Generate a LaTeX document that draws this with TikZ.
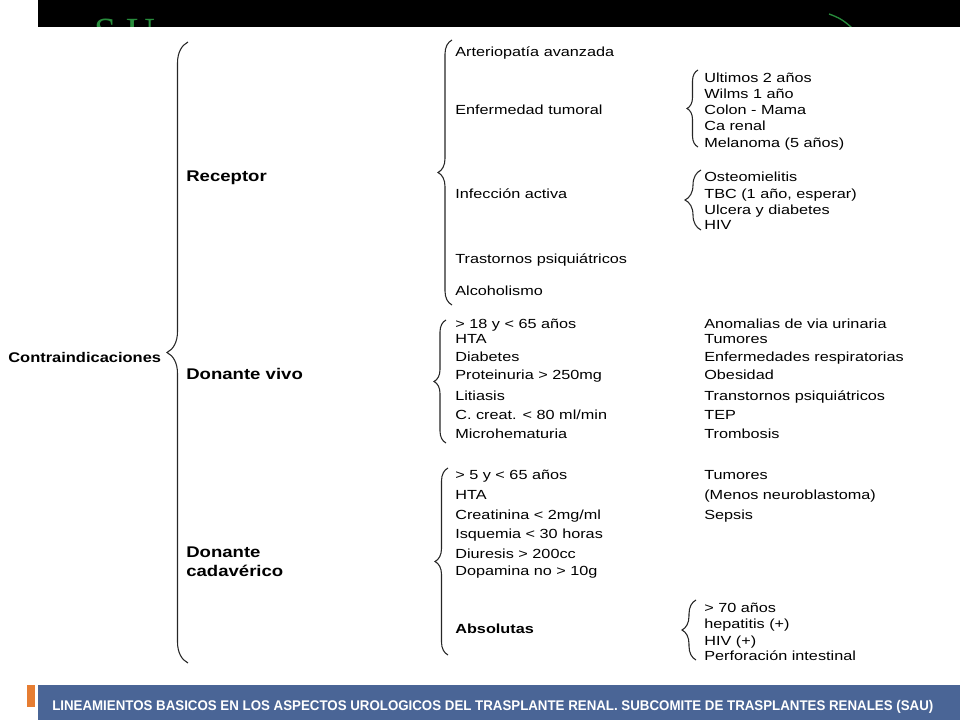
\documentclass[tikz,border=0pt]{standalone}
\usepackage{fontspec}
\setmainfont{Liberation Sans}
\newfontfamily\titlefont{Liberation Serif}
\usetikzlibrary{decorations.pathreplacing}
\definecolor{barblue}{RGB}{74,101,150}
\definecolor{accent}{RGB}{230,125,50}
\definecolor{titlegreen}{RGB}{40,140,60}

\begin{document}
\begin{tikzpicture}[x=0.75pt, y=-0.75pt,
    txt/.style={anchor=base west, inner sep=0pt, font=\fontsize{9.9}{11}\selectfont, xscale=1.23},
    hdr/.style={anchor=base west, inner sep=0pt, font=\fontsize{11.6}{13}\selectfont\bfseries, xscale=1.2},
    brc/.style={decorate, decoration={brace, amplitude=#1}, line width=0.8pt, black!85},
  ]
  \useasboundingbox (0,0) rectangle (960,720);

  % top bar
  \fill[black] (38,0) rectangle (960,27);
  \begin{scope}
    \clip (38,0) rectangle (960,27);
    \node[anchor=north west, inner sep=0pt, text=titlegreen, font=\titlefont\fontsize{30}{33}\selectfont] (title) at (94,19) {S.U};
    \coordinate (arcA) at (829,14);
    \coordinate (arcB) at (852,28);
    \draw[titlegreen, line width=1pt] (arcA) to[bend left=12] (arcB);
  \end{scope}

  % main levels
  \node[hdr, font=\fontsize{10.5}{12}\selectfont\bfseries, xscale=0.98] (contra) at (8,362) {Contraindicaciones};
  \node[hdr] (rec) at (186,182) {Receptor};
  \node[hdr] (vivo) at (186,379) {Donante vivo};
  \node[hdr] (cad1) at (186,557) {Donante};
  \node[hdr] (cad2) at (186,576) {cadavérico};

  \coordinate (mainT) at (188,42);
  \coordinate (mainB) at (188,663);
  \draw[brc=15.75pt] (mainB) -- (mainT);

  % receptor
  \coordinate (recT) at (452,40);
  \coordinate (recB) at (452,305);
  \draw[brc=10.5pt] (recB) -- (recT);
  \node[txt] (art) at (455,57) {Arteriopatía avanzada};
  \node[txt] (tum) at (455,115) {Enfermedad tumoral};
  \node[txt] (inf) at (455,199) {Infección activa};
  \node[txt] (psi) at (455,264) {Trastornos psiquiátricos};
  \node[txt] (alc) at (455,296) {Alcoholismo};

  \coordinate (tumT) at (698,70);
  \coordinate (tumB) at (698,147);
  \draw[brc=8.25pt] (tumB) -- (tumT);
  \node[txt] (ult) at (704,83) {Ultimos 2 años};
  \node[txt] (wil) at (704,99) {Wilms 1 año};
  \node[txt] (col) at (704,115) {Colon - Mama};
  \node[txt] (car) at (704,131) {Ca renal};
  \node[txt] (mel) at (704,148) {Melanoma (5 años)};

  \coordinate (infT) at (701,170);
  \coordinate (infB) at (701,230);
  \draw[brc=12pt] (infB) -- (infT);
  \node[txt] (ost) at (704,182) {Osteomielitis};
  \node[txt] (tbc) at (704,199) {TBC (1 año, esperar)};
  \node[txt] (ulc) at (704,215) {Ulcera y diabetes};
  \node[txt] (hiv) at (704,230) {HIV};

  % donante vivo
  \coordinate (vivoT) at (446,320);
  \coordinate (vivoB) at (446,443);
  \draw[brc=9pt] (vivoB) -- (vivoT);
  \node[txt] (v1) at (455,329) {> 18 y < 65 años};
  \node[txt] (v2) at (455,344) {HTA};
  \node[txt] (v3) at (455,361) {Diabetes};
  \node[txt] (v4) at (455,379) {Proteinuria > 250mg};
  \node[txt] (v5) at (455,400) {Litiasis};
  \node[txt] (v6) at (455,419) {C. creat. < 80 ml/min};
  \node[txt] (v7) at (455,438) {Microhematuria};
  \node[txt] (w1) at (704,329) {Anomalias de via urinaria};
  \node[txt] (w2) at (704,344) {Tumores};
  \node[txt] (w3) at (704,361) {Enfermedades respiratorias};
  \node[txt] (w4) at (704,379) {Obesidad};
  \node[txt] (w5) at (704,400) {Transtornos psiquiátricos};
  \node[txt] (w6) at (704,419) {TEP};
  \node[txt] (w7) at (704,438) {Trombosis};

  % donante cadaverico
  \coordinate (cadT) at (448,468);
  \coordinate (cadB) at (448,655);
  \draw[brc=9.75pt] (cadB) -- (cadT);
  \node[txt] (c1) at (455,479) {> 5 y < 65 años};
  \node[txt] (c2) at (455,499) {HTA};
  \node[txt] (c3) at (455,519) {Creatinina < 2mg/ml};
  \node[txt] (c4) at (455,538) {Isquemia < 30 horas};
  \node[txt] (c5) at (455,558) {Diuresis > 200cc};
  \node[txt] (c6) at (455,575) {Dopamina no > 10g};
  \node[txt, font=\fontsize{9.9}{11}\selectfont\bfseries] (abs) at (455,633) {Absolutas};
  \node[txt] (d1) at (704,479) {Tumores};
  \node[txt] (d2) at (704,499) {(Menos neuroblastoma)};
  \node[txt] (d3) at (704,519) {Sepsis};

  \coordinate (absT) at (696,600);
  \coordinate (absB) at (696,660);
  \draw[brc=10.5pt] (absB) -- (absT);
  \node[txt] (a1) at (704,612) {> 70 años};
  \node[txt] (a2) at (704,628) {hepatitis (+)};
  \node[txt] (a3) at (704,645) {HIV (+)};
  \node[txt] (a4) at (704,660) {Perforación intestinal};

  % footer
  \fill[accent] (27,685) rectangle (35,707);
  \fill[barblue] (38,685) rectangle (960,720);
  \node[anchor=base west, inner sep=0pt, text=white, font=\fontsize{10.5}{12}\selectfont\bfseries, xscale=0.95] (foot) at (52,710)
    {LINEAMIENTOS BASICOS EN LOS ASPECTOS UROLOGICOS DEL TRASPLANTE RENAL. SUBCOMITE DE TRASPLANTES RENALES (SAU)};
\end{tikzpicture}
\end{document}
